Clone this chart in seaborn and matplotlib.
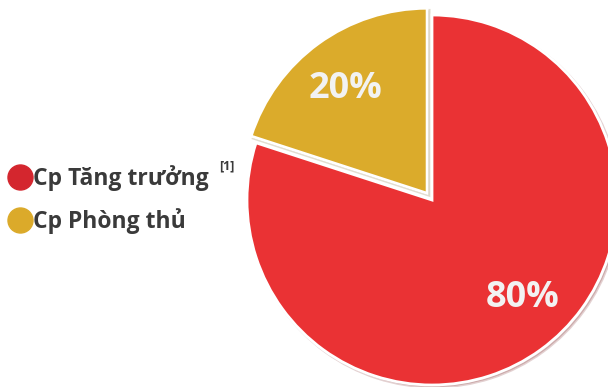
import matplotlib
matplotlib.use("Agg")
import matplotlib.pyplot as plt
import seaborn as sns
from matplotlib.lines import Line2D

categories = ["Cp Phòng thủ", "Cp Tăng trưởng"]
values = [20, 80]
slice_colors = ["#DBAB2B", "#EA3234"]
legend_order = ["Cp Tăng trưởng", "Cp Phòng thủ"]
legend_colors = ["#D4262E", "#DBAA2A"]
footnote = "[1]"

sns.set_theme(style="white")
plt.rcParams["font.family"] = ["Open Sans", "DejaVu Sans"]

W, H = 608, 387
fig = plt.figure(figsize=(W / 100, H / 100), dpi=100)
fig.patch.set_facecolor("white")

cx, cy, r = 432, 200, 185
ax = fig.add_axes([(cx - r) / W, (H - cy - r) / H, 2 * r / W, 2 * r / H])

wedges, texts, autotexts = ax.pie(
    values,
    colors=slice_colors,
    startangle=90,
    counterclock=True,
    explode=[0.045, 0],
    radius=1,
    autopct=lambda p: f"{p:.0f}%",
    pctdistance=0.72,
    wedgeprops=dict(edgecolor="white", linewidth=2),
    shadow=dict(ox=0.008, oy=-0.008, shade=0.5, alpha=0.2),
    textprops=dict(color="#F2F2F2", fontsize=26, fontweight="bold"),
)
ax.set_xlim(-1, 1)
ax.set_ylim(-1, 1)
ax.set_aspect("equal")
ax.axis("off")
# fine-tune label positions inside the slices
autotexts[0].set_position((-0.47, 0.60))
autotexts[1].set_position((0.49, -0.53))

handles = [Line2D([0], [0], marker="o", linestyle="none", markersize=18,
                  markerfacecolor=c, markeredgecolor=c) for c in legend_colors]
leg = fig.legend(handles, legend_order, loc="center left",
                 bbox_to_anchor=(10 / W, 1 - 200 / H), frameon=False,
                 handlelength=0.9, handletextpad=0.1, labelspacing=0.75,
                 borderaxespad=0.0, borderpad=0.0,
                 prop=dict(family=["Open Sans", "DejaVu Sans"], weight="bold", size=16.5))
for t in leg.get_texts():
    t.set_color("#3A3A3A")

fig.text(219 / W, 1 - 166 / H, footnote, fontsize=9, fontweight="bold",
         color="#3A3A3A", ha="left", va="center")

fig.savefig("out.png", dpi=100)
